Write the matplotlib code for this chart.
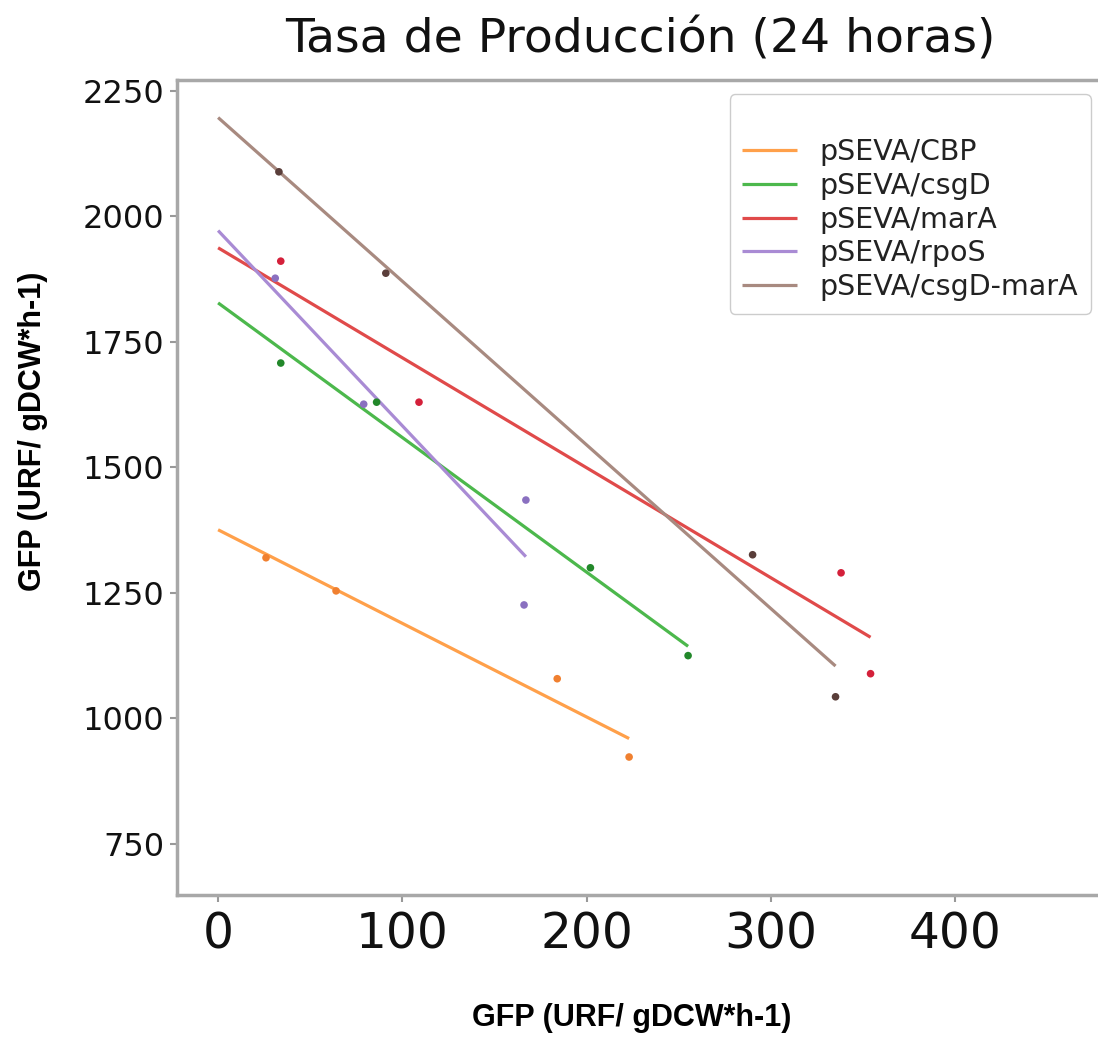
import numpy as np
import matplotlib
matplotlib.use("Agg")
import matplotlib.pyplot as plt

# values
labels = ["pSEVA/CBP", "pSEVA/csgD", "pSEVA/marA", "pSEVA/rpoS", "pSEVA/csgD-marA"]

cbp_x = [26, 64, 184, 223]
cbp_y = [1320, 1254, 1079, 923]

csgd_x = [34, 86, 202, 255]
csgd_y = [1708, 1630, 1300, 1125]

mara_x = [34, 109, 338, 354]
mara_y = [1911, 1630, 1290, 1089]

rpos_x = [31, 79, 167, 166]
rpos_y = [1877, 1626, 1435, 1226]

csgd_mara_x = [33, 91, 290, 335]
csgd_mara_y = [2089, 1887, 1326, 1043]

xticks = [0, 100, 200, 300, 400]
yticks = [750, 1000, 1250, 1500, 1750, 2000, 2250]

series = [(cbp_x, cbp_y), (csgd_x, csgd_y), (mara_x, mara_y),
          (rpos_x, rpos_y), (csgd_mara_x, csgd_mara_y)]
line_colors = ["#ffa04a", "#4cb84c", "#e04a4a", "#a98bd4", "#a88a80"]
dot_colors = ["#f08030", "#22882a", "#d4203a", "#8a70c0", "#5a3e3a"]

fig = plt.figure(figsize=(10.98, 10.44), dpi=100)
ax = fig.add_axes([0.1612, 0.1427, 0.8398, 0.7807])

for (x, y), lab, lc, dc in zip(series, labels, line_colors, dot_colors):
    x = np.array(x, dtype=float)
    y = np.array(y, dtype=float)
    # least squares fit line, drawn from 0 to the last point
    slope, intercept = np.polyfit(x, y, 1)
    xs = np.array([0, x.max()])
    ax.plot(xs, slope * xs + intercept, color=lc, lw=2.3, label=lab, solid_capstyle="butt")
    ax.scatter(x, y, s=30, color=dc, zorder=3, edgecolors="none")

ax.set_xlim(-22.3, 478)
ax.set_ylim(648, 2272)
ax.set_xticks(xticks)
ax.set_yticks(yticks)
ax.tick_params(axis="x", labelsize=35, colors="#999999", labelcolor="#111111", length=5, width=1.5, pad=6)
ax.tick_params(axis="y", labelsize=23, colors="#999999", labelcolor="#111111", length=5, width=1.5, pad=4)
for s in ax.spines.values():
    s.set_color("#a8a8a8")
    s.set_linewidth(2.5)
ax.spines["right"].set_visible(False)

leg = ax.legend(loc="upper right", bbox_to_anchor=(0.991, 0.983), borderaxespad=0,
                fontsize=20.5, title=" ", title_fontsize=19, labelspacing=0.2,
                handlelength=1.9, handletextpad=0.8, borderpad=0.45,
                edgecolor="#cccccc", framealpha=1.0)
for t in leg.get_texts():
    t.set_color("#222222")

fig.text(0.583, 1 - 40 / 1044, "Tasa de Producción (24 horas)", ha="center", va="center",
         fontsize=34, color="#111111")

label_font = dict(family=["Liberation Sans", "DejaVu Sans"], weight="bold", fontsize=22)
fig.text(632 / 1098, 1 - 1018 / 1044, "GFP (URF/ gDCW*h-1)", ha="center", va="center", **label_font)
fig.text(33 / 1098, 1 - 431 / 1044, "GFP (URF/ gDCW*h-1)", ha="center", va="center",
         rotation=90, **label_font)

fig.savefig("out.png", dpi=100)
